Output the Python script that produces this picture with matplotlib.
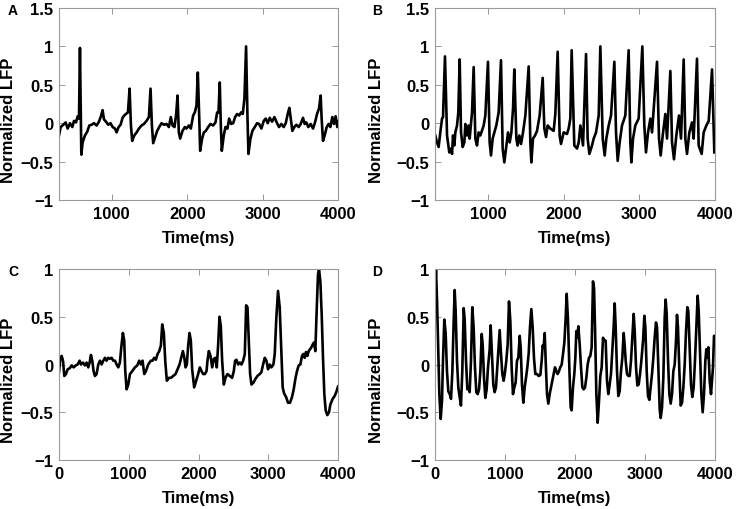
import numpy as np
import matplotlib.pyplot as plt

# ---- panel A: time (ms) and normalized LFP ----
tA = [300, 322, 357, 388, 415, 446, 477, 499, 525, 547, 565, 578, 596, 613, 644, 675,
      702, 733, 764, 799, 830, 856, 878, 896, 923, 953, 984, 1011, 1042, 1064, 1090,
      1117, 1143, 1165, 1187, 1214, 1236, 1254, 1271, 1298, 1329, 1360, 1395, 1426,
      1461, 1492, 1514, 1532, 1549, 1576, 1602, 1629, 1660, 1691, 1726, 1757, 1783,
      1806, 1832, 1854, 1872, 1889, 1907, 1938, 1969, 1991, 2022, 2048, 2079, 2101,
      2123, 2141, 2159, 2172, 2198, 2221, 2247, 2278, 2309, 2344, 2375, 2397, 2415,
      2432, 2446, 2459, 2485, 2508, 2534, 2556, 2583, 2609, 2636, 2662, 2689, 2715,
      2737, 2759, 2781, 2799, 2812, 2839, 2865, 2896, 2927, 2953, 2984, 3015, 3042,
      3068, 3095, 3126, 3157, 3187, 3218, 3249, 3280, 3307, 3333, 3355, 3373, 3395,
      3421, 3448, 3479, 3505, 3536, 3558, 3580, 3607, 3638, 3669, 3695, 3722, 3748,
      3770, 3783, 3801, 3823, 3850, 3876, 3898, 3925, 3947, 3969, 3991, 4000]
vA = [-0.16, -0.05, -0.02, 0.01, -0.07, 0.00, -0.05, 0.03, 0.01, 0.09, 0.06, 0.98,
      -0.41, -0.25, -0.16, -0.11, -0.03, -0.02, 0.00, -0.03, 0.02, 0.09, 0.17, 0.05,
      0.02, -0.02, 0.00, -0.05, -0.07, -0.12, -0.05, -0.02, 0.07, 0.10, 0.12, 0.14,
      0.45, -0.03, -0.23, -0.16, -0.12, -0.07, -0.03, -0.01, 0.03, 0.08, 0.45, -0.03,
      -0.26, -0.18, -0.10, -0.05, 0.00, -0.02, -0.01, -0.05, 0.08, -0.03, -0.05, 0.12,
      0.36, -0.12, -0.20, -0.10, -0.05, -0.07, -0.03, -0.07, 0.10, 0.14, 0.23, 0.66,
      0.10, -0.36, -0.20, -0.12, -0.10, -0.05, -0.01, -0.03, 0.01, 0.14, 0.14, 0.53,
      -0.03, -0.36, -0.16, -0.05, -0.07, 0.06, -0.01, 0.00, 0.08, 0.12, 0.10, 0.14,
      0.12, 0.32, 1.00, 0.10, -0.40, -0.20, -0.10, -0.05, 0.00, -0.01, -0.07, 0.03,
      0.06, 0.00, 0.07, 0.02, 0.08, 0.01, -0.05, -0.01, -0.05, 0.00, 0.12, 0.20, 0.06,
      -0.10, -0.05, -0.02, -0.05, -0.01, 0.07, -0.01, 0.01, -0.05, -0.01, -0.07, 0.01,
      0.12, 0.19, 0.36, 0.06, -0.23, -0.16, -0.05, -0.01, -0.05, 0.08, -0.01, 0.09,
      -0.05, 0.02]

# ---- panel B ----
tB = [304, 326, 348, 370, 393, 406, 432, 459, 489, 511, 525, 538, 555, 569, 591, 608,
      626, 644, 666, 688, 701, 723, 745, 758, 789, 811, 833, 855, 877, 899, 943, 965,
      1000, 1022, 1040, 1062, 1084, 1110, 1141, 1172, 1194, 1216, 1243, 1265, 1287,
      1309, 1331, 1348, 1375, 1392, 1414, 1437, 1463, 1494, 1538, 1560, 1573, 1595,
      1622, 1648, 1683, 1723, 1745, 1767, 1789, 1824, 1868, 1890, 1921, 1947, 1965,
      2000, 2044, 2066, 2088, 2106, 2141, 2177, 2199, 2221, 2256, 2296, 2317, 2340,
      2375, 2397, 2428, 2463, 2485, 2516, 2542, 2564, 2595, 2626, 2670, 2692, 2714,
      2740, 2771, 2815, 2859, 2881, 2895, 2917, 2947, 2991, 3040, 3066, 3088, 3115,
      3146, 3168, 3234, 3260, 3282, 3309, 3344, 3366, 3410, 3432, 3458, 3489, 3524,
      3551, 3586, 3608, 3630, 3661, 3696, 3718, 3762, 3784, 3824, 3850, 3886, 3917,
      3961, 3991]
vB = [-0.16, -0.25, -0.31, -0.12, 0.06, 0.08, 0.87, -0.16, -0.38, -0.33, -0.40, -0.16,
      -0.29, -0.12, -0.03, 0.14, 0.83, -0.12, -0.31, -0.25, -0.01, -0.16, -0.03, -0.20,
      0.14, 0.73, -0.20, -0.29, -0.12, -0.16, -0.03, 0.10, 0.80, -0.25, -0.42, -0.20,
      -0.12, -0.03, 0.14, 0.82, -0.33, -0.51, -0.29, -0.12, -0.25, -0.12, 0.19, 0.70,
      -0.20, -0.29, -0.16, -0.27, -0.12, 0.10, 0.74, -0.25, -0.51, -0.20, -0.16, -0.10,
      0.10, 0.59, -0.07, -0.18, -0.03, -0.07, -0.10, 0.12, 0.93, -0.16, -0.27, -0.12,
      -0.14, -0.07, 0.06, 0.95, -0.29, -0.33, -0.25, -0.03, -0.29, 0.90, -0.20, -0.40,
      -0.29, -0.20, -0.12, 0.10, 1.00, -0.20, -0.42, -0.20, -0.03, 0.10, 0.80, -0.12,
      -0.49, -0.25, -0.03, 0.10, 0.95, -0.25, -0.51, -0.20, -0.03, 0.06, 1.00, -0.03,
      -0.38, -0.12, 0.06, -0.12, 0.80, -0.20, -0.42, -0.16, 0.12, -0.20, 0.68, -0.25,
      -0.47, -0.16, 0.10, -0.20, 0.83, -0.20, -0.40, -0.12, 0.01, -0.20, 0.84, -0.29,
      -0.40, -0.12, -0.03, 0.03, 0.70, -0.38]

# ---- panel C ----
tC = [0, 19, 38, 57, 76, 100, 124, 153, 181, 210, 239, 267, 296, 315, 344, 372, 396,
      420, 439, 458, 477, 496, 515, 539, 563, 587, 611, 635, 659, 682, 706, 730, 754,
      778, 802, 826, 850, 873, 893, 916, 935, 950, 969, 993, 1017, 1050, 1088, 1122,
      1150, 1174, 1198, 1222, 1246, 1279, 1317, 1341, 1365, 1389, 1413, 1437, 1461,
      1480, 1503, 1523, 1546, 1575, 1604, 1637, 1671, 1699, 1728, 1752, 1776, 1795,
      1814, 1833, 1852, 1871, 1890, 1909, 1938, 1966, 1995, 2019, 2043, 2067, 2091,
      2115, 2129, 2148, 2172, 2196, 2220, 2244, 2262, 2282, 2301, 2320, 2339, 2363,
      2387, 2415, 2449, 2482, 2506, 2525, 2544, 2568, 2592, 2616, 2640, 2664, 2683,
      2702, 2721, 2740, 2759, 2788, 2817, 2845, 2878, 2902, 2926, 2950, 2974, 2997,
      3021, 3045, 3074, 3093, 3116, 3140, 3164, 3188, 3207, 3226, 3255, 3283, 3312,
      3341, 3365, 3389, 3412, 3436, 3460, 3484, 3503, 3522, 3541, 3560, 3580, 3599,
      3618, 3637, 3656, 3675, 3694, 3713, 3728, 3747, 3766, 3785, 3804, 3823, 3847,
      3871, 3890, 3923, 3952, 3980, 4000]
vC = [-0.08, 0.07, 0.09, 0.04, -0.12, -0.10, -0.05, -0.04, -0.01, -0.03, -0.01, 0.00,
      0.04, 0.00, 0.02, -0.01, 0.02, -0.03, 0.02, 0.10, 0.04, -0.07, -0.12, -0.10,
      0.00, 0.04, 0.00, 0.04, 0.07, 0.04, 0.07, 0.06, 0.07, 0.04, 0.04, 0.00, -0.03,
      0.02, 0.18, 0.33, 0.25, -0.07, -0.26, -0.21, -0.10, -0.07, -0.03, -0.01, 0.04,
      0.00, 0.04, -0.10, -0.07, 0.00, 0.04, 0.04, 0.07, 0.05, 0.11, 0.14, 0.20, 0.42,
      0.33, 0.04, -0.17, -0.14, -0.14, -0.12, -0.10, -0.05, 0.00, 0.07, 0.14, 0.08,
      -0.03, 0.00, 0.20, 0.33, 0.25, -0.05, -0.24, -0.17, -0.10, -0.03, -0.07, -0.10,
      -0.10, -0.07, 0.04, 0.14, 0.09, -0.03, 0.06, 0.07, -0.03, 0.21, 0.50, 0.40, 0.04,
      -0.21, -0.14, -0.10, -0.12, -0.14, -0.07, 0.04, 0.05, 0.00, 0.02, 0.00, 0.04,
      0.11, 0.62, 0.60, 0.25, -0.10, -0.21, -0.19, -0.15, -0.12, -0.10, -0.08, 0.00,
      0.07, 0.04, -0.05, 0.00, -0.03, 0.00, 0.11, 0.49, 0.77, 0.60, 0.14, -0.24, -0.30,
      -0.34, -0.40, -0.40, -0.34, -0.26, -0.15, -0.07, -0.01, 0.00, 0.09, 0.11, 0.07,
      0.13, 0.09, 0.14, 0.16, 0.18, 0.21, 0.23, 0.14, 0.56, 0.94, 1.00, 0.87, 0.53,
      0.07, -0.31, -0.48, -0.53, -0.50, -0.42, -0.36, -0.33, -0.28, -0.23]

# ---- panel D ----
tD = [0, 14, 29, 48, 62, 81, 100, 114, 133, 152, 171, 190, 210, 229, 248, 267, 281,
      295, 314, 333, 352, 371, 390, 410, 424, 443, 462, 481, 495, 514, 533, 552, 571,
      590, 610, 629, 648, 667, 681, 700, 719, 738, 757, 781, 795, 814, 833, 852, 871,
      890, 910, 924, 943, 962, 981, 1000, 1019, 1038, 1057, 1076, 1095, 1114, 1133,
      1152, 1171, 1190, 1210, 1224, 1243, 1262, 1281, 1300, 1319, 1338, 1357, 1376,
      1395, 1414, 1433, 1457, 1481, 1505, 1524, 1538, 1552, 1567, 1581, 1600, 1619,
      1638, 1657, 1676, 1695, 1714, 1733, 1752, 1771, 1790, 1810, 1829, 1848, 1867,
      1881, 1900, 1919, 1938, 1952, 1971, 1990, 2005, 2019, 2033, 2048, 2067, 2086,
      2105, 2124, 2143, 2162, 2181, 2200, 2219, 2238, 2257, 2272, 2286, 2305, 2324,
      2343, 2362, 2381, 2400, 2419, 2438, 2457, 2476, 2495, 2514, 2533, 2552, 2567,
      2581, 2600, 2619, 2638, 2657, 2676, 2695, 2710, 2724, 2743, 2762, 2781, 2800,
      2819, 2838, 2853, 2872, 2891, 2910, 2929, 2948, 2972, 2991, 3005, 3024, 3043,
      3062, 3081, 3100, 3119, 3138, 3157, 3172, 3191, 3210, 3224, 3243, 3262, 3281,
      3295, 3310, 3329, 3348, 3367, 3386, 3405, 3424, 3443, 3457, 3471, 3491, 3510,
      3529, 3548, 3567, 3586, 3605, 3619, 3638, 3657, 3676, 3695, 3714, 3733, 3752,
      3767, 3786, 3805, 3824, 3843, 3862, 3876, 3890, 3905, 3924, 3943, 3957, 3971,
      3986, 4000]
vD = [0.68, 1.00, 0.67, 0.11, -0.31, -0.57, -0.38, 0.04, 0.47, 0.33, -0.07, -0.28,
      -0.31, -0.36, -0.07, 0.46, 0.78, 0.56, 0.04, -0.24, -0.34, -0.43, -0.07, 0.59,
      0.47, 0.04, -0.26, -0.24, -0.29, 0.04, 0.60, 0.39, -0.03, -0.29, -0.31, -0.26,
      -0.07, 0.32, 0.21, -0.14, -0.35, -0.26, -0.03, 0.16, 0.41, 0.11, -0.21, -0.29,
      -0.24, -0.03, 0.18, 0.36, 0.11, -0.10, -0.17, -0.08, 0.04, 0.21, 0.66, 0.46,
      -0.03, -0.31, -0.24, -0.19, 0.04, 0.07, 0.30, 0.18, -0.21, -0.40, -0.24, -0.14,
      -0.03, 0.11, 0.39, 0.58, 0.39, 0.07, -0.10, -0.10, -0.12, -0.11, 0.04, 0.20,
      0.18, 0.33, 0.04, -0.31, -0.41, -0.31, -0.24, -0.17, -0.10, -0.03, -0.07, -0.10,
      -0.07, -0.03, 0.00, 0.11, 0.23, 0.49, 0.74, 0.46, -0.03, -0.45, -0.48, -0.24,
      -0.10, 0.07, 0.35, 0.28, 0.40, 0.21, -0.03, -0.24, -0.26, -0.24, -0.14, 0.00,
      0.07, 0.09, 0.18, 0.87, 0.80, 0.39, -0.31, -0.61, -0.38, -0.12, -0.03, 0.28,
      0.25, 0.25, -0.17, -0.31, -0.21, -0.10, 0.14, 0.39, 0.64, 0.39, -0.07, -0.33,
      -0.28, -0.07, 0.07, 0.33, 0.20, 0.04, -0.10, -0.12, -0.12, 0.04, 0.28, 0.53,
      0.35, -0.03, -0.22, -0.21, -0.10, 0.04, 0.25, 0.51, 0.39, -0.07, -0.33, -0.37,
      -0.24, -0.10, 0.07, 0.28, 0.44, 0.39, -0.03, -0.47, -0.56, -0.45, -0.14, 0.49,
      0.68, 0.53, 0.04, -0.31, -0.41, -0.31, -0.07, 0.00, 0.25, 0.52, 0.39, -0.07,
      -0.43, -0.40, -0.24, 0.00, 0.35, 0.60, 0.56, 0.18, -0.21, -0.34, -0.24, 0.04,
      0.39, 0.72, 0.56, 0.11, -0.31, -0.50, -0.31, 0.04, 0.16, 0.07, 0.18, -0.17,
      -0.31, -0.17, -0.03, 0.30, 0.30]

letters = ['A', 'B', 'C', 'D']
W, H = 737, 510

plt.rcParams['font.family'] = ['Liberation Sans', 'DejaVu Sans']
plt.rcParams['font.weight'] = 'bold'

fig = plt.figure(figsize=(W / 100, H / 100), dpi=100)

# axes boxes in pixels: left, top, right, bottom
boxes = [(59, 9, 338, 201), (435, 9, 715, 201),
         (59, 270, 338, 461), (435, 270, 715, 461)]
data = [(tA, vA), (tB, vB), (tC, vC), (tD, vD)]
letter_pos = [(8, 11), (372, 11), (8, 272), (372, 272)]
ylab_right = [16, 384, 16, 384]   # right edge of the rotated y label, px

for i, (l, t, r, b) in enumerate(boxes):
    ax = fig.add_axes([l / W, 1 - b / H, (r - l) / W, (b - t) / H])
    x, y = data[i]
    ax.plot(x, y, color='black', lw=1.9, solid_joinstyle='round')
    if i < 2:
        ax.set_xlim(300, 4000)
        ax.set_ylim(-1, 1.5)
        ax.set_xticks([1000, 2000, 3000, 4000])
        ax.set_yticks([-1, -0.5, 0, 0.5, 1, 1.5])
        ax.set_yticklabels(['\u22121', '\u22120.5', '0', '0.5', '1', '1.5'])
    else:
        ax.set_xlim(0, 4000)
        ax.set_ylim(-1, 1)
        ax.set_xticks([0, 1000, 2000, 3000, 4000])
        ax.set_yticks([-1, -0.5, 0, 0.5, 1])
        ax.set_yticklabels(['\u22121', '\u22120.5', '0', '0.5', '1'])
    ax.tick_params(direction='in', top=True, right=True, length=4, width=0.6,
                   color='#888888', labelsize=12, pad=4)
    for lab in ax.get_xticklabels() + ax.get_yticklabels():
        lab.set_fontweight('bold')
    for s in ax.spines.values():
        s.set_color('#999999')
        s.set_linewidth(0.8)
    ax.set_xlabel('Time(ms)', fontsize=12, fontweight='bold', labelpad=7)
    ax.set_ylabel('Normalized LFP', fontsize=12, fontweight='bold')
    ax.yaxis.set_label_coords(-(l - ylab_right[i]) / (r - l), 0.42)
    lx, ly = letter_pos[i]
    fig.text(lx / W, 1 - ly / H, letters[i], fontsize=10,
             fontweight='bold', ha='left', va='center')

fig.savefig('out.png', dpi=100)
